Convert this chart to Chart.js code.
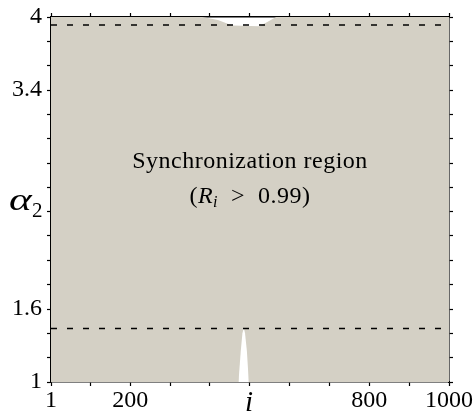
<!DOCTYPE html>
<html>
<head>
<meta charset="utf-8">
<script src="https://cdn.jsdelivr.net/npm/chart.js@4.4.0/dist/chart.umd.min.js"></script>
<style>
  body { margin: 0; background: #fff; }
  canvas { display: block; }
</style>
</head>
<body>
<canvas id="chartSync" width="476" height="414"></canvas>
<script>
// axis ticks and labels
const xTicks = [1, 100, 200, 300, 400, 500, 600, 700, 800, 900, 1000];
const xLabels = [1, 200, 800, 1000];
const yTicks = [1, 1.2, 1.4, 1.6, 1.8, 2, 2.2, 2.4, 2.6, 2.8, 3, 3.2, 3.4, 3.6, 3.8, 4];
const yLabels = [1, 1.6, 3.4, 4];

// upper edge of the synchronization region (notch near the top)
const upperX = [1, 381, 420, 456, 524, 545, 566, 1000];
const upperY = [4, 4, 3.975, 3.93, 3.925, 3.96, 4, 4];

// white spike rising from the bottom
const spikeX = [471.5, 477.5, 481.5, 485, 488, 492.5, 497.5];
const spikeY = [1, 1.26, 1.4, 1.445, 1.4, 1.26, 1];

// dashed reference levels
const dashLevels = [1.44, 3.935];

const grey = "rgb(212, 208, 197)";
const serif = '"Liberation Serif", "DejaVu Serif", serif';

const pts = (xs, ys) => xs.map((x, i) => ({ x: x, y: ys[i] }));
const hasVal = (list, v) => list.some((l) => Math.abs(l - v) < 1e-6);

const textPlugin = {
  id: "texts",
  afterDraw(chart) {
    const ctx = chart.ctx;
    const a = chart.chartArea;
    const cx = (a.left + a.right) / 2;
    ctx.save();
    ctx.fillStyle = "#000";
    ctx.textBaseline = "alphabetic";

    // x axis symbol
    ctx.font = "italic 29px " + serif;
    ctx.textAlign = "center";
    ctx.fillText("i", cx - 1, 411);

    // y axis symbol, stretched a bit to look like a math alpha
    ctx.textAlign = "left";
    ctx.save();
    ctx.translate(9, 210);
    ctx.scale(1.35, 1);
    ctx.font = "italic 32px " + serif;
    ctx.fillText("\u03b1", 0, 0);
    ctx.restore();
    ctx.font = "21px " + serif;
    ctx.fillText("2", 32, 217);

    // region caption
    ctx.letterSpacing = "0.5px";
    ctx.textAlign = "center";
    ctx.font = "24px " + serif;
    ctx.fillText("Synchronization region", cx, 168);

    const parts = [
      { t: "(", f: "24px " + serif, dy: 0 },
      { t: "R", f: "italic 24px " + serif, dy: 0 },
      { t: "i", f: "italic 16px " + serif, dy: 4 },
      { t: "  >  0.99)", f: "24px " + serif, dy: 0 },
    ];
    let w = 0;
    parts.forEach((p) => { ctx.font = p.f; p.w = ctx.measureText(p.t).width; w += p.w; });
    let x = cx - w / 2;
    ctx.textAlign = "left";
    parts.forEach((p) => { ctx.font = p.f; ctx.fillText(p.t, x, 203 + p.dy); x += p.w; });
    ctx.restore();
  },
};

const axisCommon = {
  type: "linear",
  border: { display: true, color: "#000", width: 1.6 },
  grid: { drawOnChartArea: false, color: "#000", tickLength: 4, tickWidth: 1.2 },
};

new Chart(document.querySelector("#chartSync"), {
  type: "line",
  data: {
    datasets: [
      ...dashLevels.map((lv) => ({
        data: [{ x: 1, y: lv }, { x: 1000, y: lv }],
        borderColor: "#000",
        borderWidth: 1.5,
        borderDash: [6, 10],
        pointRadius: 0,
        fill: false,
        order: 1,
      })),
      {
        data: pts(spikeX, spikeY),
        borderWidth: 0,
        backgroundColor: "#fff",
        pointRadius: 0,
        fill: "start",
        order: 2,
      },
      {
        data: pts(upperX, upperY),
        borderWidth: 0,
        backgroundColor: grey,
        pointRadius: 0,
        fill: "start",
        order: 3,
      },
    ],
  },
  options: {
    responsive: false,
    animation: false,
    devicePixelRatio: 1,
    layout: { padding: 0 },
    plugins: { legend: { display: false }, tooltip: { enabled: false } },
    scales: {
      x: {
        ...axisCommon,
        position: "bottom",
        min: 1,
        max: 1000,
        afterBuildTicks: (s) => { s.ticks = xTicks.map((v) => ({ value: v })); },
        afterFit: (s) => { s.height = 32; },
        ticks: {
          autoSkip: false,
          maxRotation: 0,
          padding: 3,
          color: "#000",
          font: { family: serif, size: 24, lineHeight: 1 },
          callback: (v) => (hasVal(xLabels, v) ? String(v) : ""),
        },
      },
      x2: {
        ...axisCommon,
        position: "top",
        min: 1,
        max: 1000,
        afterBuildTicks: (s) => { s.ticks = xTicks.map((v) => ({ value: v })); },
        afterFit: (s) => { s.height = 17; },
        ticks: { display: false },
      },
      y: {
        ...axisCommon,
        position: "left",
        min: 1,
        max: 4,
        afterBuildTicks: (s) => { s.ticks = yTicks.map((v) => ({ value: v })); },
        afterFit: (s) => { s.width = 51; },
        ticks: {
          autoSkip: false,
          padding: 5,
          color: "#000",
          font: { family: serif, size: 24, lineHeight: 1 },
          callback: (v) => (hasVal(yLabels, v) ? String(Math.round(v * 10) / 10) : ""),
        },
      },
      y2: {
        ...axisCommon,
        position: "right",
        min: 1,
        max: 4,
        afterBuildTicks: (s) => { s.ticks = yTicks.map((v) => ({ value: v })); },
        afterFit: (s) => { s.width = 26; },
        ticks: { display: false },
      },
    },
  },
  plugins: [textPlugin],
});
</script>
</body>
</html>
